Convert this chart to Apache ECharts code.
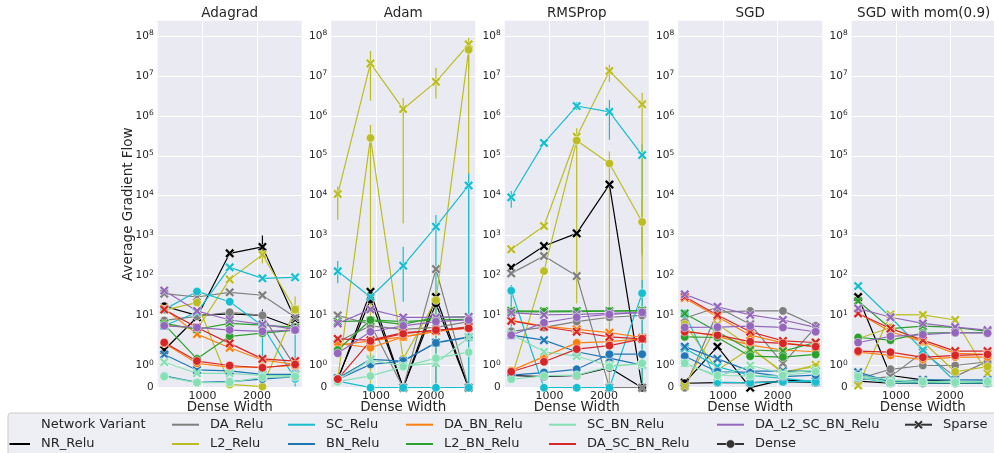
<!DOCTYPE html>
<html><head><meta charset="utf-8">
<script src="https://cdn.jsdelivr.net/npm/echarts@6/dist/echarts.min.js"></script>
<style>html,body{margin:0;padding:0;background:#fff}#c{width:994px;height:453px}</style>
</head><body><div id="c"></div>
<script>
const optimizers = ['Adagrad','Adam','RMSProp','SGD','SGD with mom(0.9)'];
const variants = ['NR_Relu','DA_Relu','L2_Relu','SC_Relu','BN_Relu','DA_BN_Relu','L2_BN_Relu','SC_BN_Relu','DA_SC_BN_Relu','DA_L2_SC_BN_Relu'];
const colors = ['#000000','#7f7f7f','#bcbd22','#17becf','#1f77b4','#ff7f0e','#2ca02c','#86e0b4','#d62728','#9467bd'];
const styles = ['Sparse','Dense'];
const denseWidths = [300,900,1500,2100,2700];
const xTicks = [1000,2000];
const yTickValues = [0,1,10,100,1e3,1e4,1e5,1e6,1e7,1e8];
const yTickExponents = [null,0,1,2,3,4,5,6,7,8];

// rows follow `variants` order
const adagradSparse = [
 [1.7,9,360,520,8],[35,29,38,32,9],[6,4.5,80,330,14],[5.5,12,160,85,90],[1.5,0.8,0.76,0.6,0.6],
 [15,3.4,1.8,1.25,1.05],[6.3,4.5,6.3,5.7,5],[1.15,0.65,0.65,0.55,0.55],[14,5,2,1.3,1.2],[42,13,7.7,6,4.5]];
const adagradDense = [
 [17,10,11,10,5],[7.5,9.5,12,10,0.95],[13.6,21,0.15,0.05,14],[14,40,22,5.5,0.4],[0.53,0.24,0.27,0.39,0.5],
 [2,1.1,0.93,0.93,1.0],[6,1.3,3,3.6,4.3],[0.5,0.23,0.24,0.47,0.5],[2.1,1.2,1.0,0.9,1.05],[5.5,5,4.3,4,4.3]];
const adamSparse = [
 [0.35,39,0,29,0],[10,6,0,145,0],[1.1e4,2.06e7,1.48e6,7.1e6,6.2e7],[128,29,176,1670,1.8e4],[0.43,1.28,1.2,2.1,2.9],
 [1.92,2.3,2.9,4,5.2],[7,7.4,6,9,9.2],[0.35,1.25,0.98,1.1,2.8],[2.6,2.4,3.7,4.2,5.2],[6.3,14.2,8.9,8.9,9.2]];
const adamDense = [
 [0.4,25,0,20,0],[2.2,5.5,4.5,5,7],[0.4,2.8e5,1.3,24,4.5e7],[0.3,0,0,0,0],[0.37,1.05,1.2,2.05,2.8],
 [2,1.8,2.9,4,4.8],[1.7,7.7,7,7.7,8],[0.27,0.53,0.95,1.33,1.6],[0.39,2.3,3.5,4.3,4.8],[1.55,3.9,5.5,7,7.7]];
const rmspropSparse = [
 [157,547,1140,1.9e4,0],[113,308,97,0,0],[453,1740,3e5,1.33e7,1.94e6],[9.1e3,2.1e5,1.76e6,1.26e6,1.04e5],[3.2,2.4,1.62,1.33,1.02],
 [7.5,5.4,4.5,3.7,2.8],[13.1,12.8,13,13,13.3],[3.4,1.62,1.42,1.0,1.05],[7.3,5.2,3.9,2.9,2.6],[11.7,10.3,10.6,11.2,11.7]];
const rmspropDense = [
 [0.55,0.5,0.55,0.9,0],[4,5,7,9,10],[0.4,129,2.4e5,6.4e4,2200],[41.6,0,0,0,36],[0.57,0.68,0.83,1.51,1.51],
 [0.77,1.4,2.06,2.2,2.6],[12.5,12.3,12.5,12.8,13],[0.38,0.53,0.57,0.95,1.1],[0.72,1.17,1.74,1.9,2.6],[3.2,6.6,9.0,10.6,11.9]];
const sgdSparse = [
 [0.23,1.85,0,0.35,0.27],[8.5,16,6,1.1,5],[0.07,6,1.85,0.65,1.03],[1.77,0.95,0.55,0.42,0.27],[1.85,1.3,0.75,0.75,0.75],
 [27,9.3,3.2,2.05,1.85],[11.2,3.9,1.7,1.65,2.1],[1.1,0.5,1.0,0.65,0.8],[29.4,10.3,3.9,2.3,2.1],[33.7,16.5,10.3,7.7,5]];
const sgdDense = [
 [0.2,0.23,0.23,0.27,0.24],[0,12,13,13,5.5],[6,0.8,1.77,0.72,0.95],[11,0.25,0.22,0.27,0.27],[1.42,0.72,0.7,0.5,0.57],
 [4.2,3.0,1.92,1.7,1.62],[2.9,2.8,1.42,1.38,1.5],[1.1,0.55,0.53,0.55,0.72],[3.9,3.2,2.2,2.0,1.85],[5,5.1,5.4,5,3.9]];
const sgdMomSparse = [
 [29,0.55,0.35,0.27,0.23],[0.35,0.5,1.6,0.5,1.2],[0.1,10.5,10.3,7.7,0.65],[54.5,9,1.7,0.27,0.27],[0.7,0.27,0.35,0.35,0.35],
 [11.5,3.9,2.2,1.55,1.5],[23,4.7,5.4,5,4],[0.55,0.35,0.27,0.27,0.27],[11.2,4.7,2.4,1.65,1.65],[15,9,6.3,5.1,4.3]];
const sgdMomDense = [
 [0.3,0.2,0.2,0.2,0.2],[0.4,0.83,1.0,1.0,1.17],[2.6,5,2.2,0.72,0.95],[0.45,0.22,0.22,0.22,0.22],[0.6,0.27,0.25,0.27,0.3],
 [1.6,1.46,1.27,1.38,1.38],[2.8,2.4,3.6,3.7,3.7],[0.5,0.23,0.27,0.23,0.27],[1.65,1.6,1.37,1.46,1.5],[2.1,3.0,3.3,3.7,3.6]];

// [panel, variant, style(0 Sparse / 1 Dense), point, low, high]
const errorBars = [
 [0,0,0,3,280,1000],[0,0,1,3,7,14],[0,2,0,3,200,450],[0,2,0,4,7.5,30],[0,3,1,3,0.3,6],[0,3,1,4,0.05,4],
 [1,2,0,0,2500,1.7e4],[1,2,0,1,2.4e6,4.2e7],[1,2,0,2,2000,2.8e6],[1,2,0,3,2.7e6,1.6e7],[1,2,0,4,1.5e7,9e7],
 [1,2,1,1,0,5.9e5],[1,2,1,3,0,30],[1,2,1,4,0,7e7],
 [1,3,0,0,64,230],[1,3,0,2,22,525],[1,3,0,3,0,3300],[1,3,0,4,0,3.6e4],
 [2,3,0,0,5000,1.3e4],[2,3,0,2,1.4e6,2.2e6],[2,3,0,3,2.5e5,2.5e6],[2,3,0,4,360,2e5],
 [2,2,0,2,20,4.9e5],[2,2,0,3,7e6,1.9e7],[2,2,0,4,0,3.8e6],[2,2,1,3,0,1.27e5],[2,2,1,4,300,8000],
 [2,3,1,0,4.3,58],[2,3,1,4,0,77]
];

const sparseSets = [adagradSparse, adamSparse, rmspropSparse, sgdSparse, sgdMomSparse];
const denseSets = [adagradDense, adamDense, rmspropDense, sgdDense, sgdMomDense];

const LT = 2, LS = 1/(1-1/10);
function symlog(v){ return v <= LT ? v/LT*LS : LS + Math.log10(v/LT); }
const yTickT = yTickValues.map(symlog);
const yMaxT = 9.193;

const FONT = '"DejaVu Sans", sans-serif';
const TXT = '#262626';
const gridLefts = [157.7, 331.2, 504.7, 678.2, 851.7];
const gridW = 144, gridTop = 20.7, gridH = 367;
const X_PATH = 'path://M2,0 L5,3 L8,0 L10,2 L7,5 L10,8 L8,10 L5,7 L2,10 L0,8 L3,5 L0,2 Z';

const grids = [], xAxes = [], yAxes = [], series = [], graphics = [];
optimizers.forEach((name, p) => {
  grids.push({left: gridLefts[p], top: gridTop, width: gridW, height: gridH, show: true, backgroundColor: '#eaeaf2', borderWidth: 0});
  xAxes.push({type: 'value', gridIndex: p, min: 180, max: 2820,
    name: 'Dense Width', nameLocation: 'middle', nameGap: 13, nameMoveOverlap: false,
    nameTextStyle: {fontSize: 13.5, color: TXT, fontFamily: FONT},
    axisLine: {show: false}, axisTick: {show: false, customValues: xTicks},
    axisLabel: {customValues: xTicks, color: TXT, fontSize: 11, margin: 3, fontFamily: FONT,
      formatter: function(val){ return String(Math.round(val)); }},
    splitLine: {show: true, lineStyle: {color: '#ffffff', width: 1}}});
  yAxes.push({type: 'value', gridIndex: p, min: 0, max: yMaxT,
    name: p === 0 ? 'Average Gradient Flow' : '', nameLocation: 'middle', nameGap: 22, nameMoveOverlap: false,
    nameTextStyle: {fontSize: 13.5, color: TXT, fontFamily: FONT},
    axisLine: {show: false}, axisTick: {show: false, customValues: yTickT},
    axisLabel: {customValues: yTickT, color: TXT, fontSize: 10.5, margin: 4, fontFamily: FONT,
      rich: {b: {fontSize: 10.5, color: TXT, fontFamily: FONT},
             s: {fontSize: 7.5, color: TXT, fontFamily: FONT, padding: [0, 0, 5, 0]}},
      formatter: function(val){
        for (let i = 0; i < yTickT.length; i++) {
          if (Math.abs(yTickT[i]-val) < 1e-6) {
            return yTickExponents[i] === null ? '{b|0}' : '{b|10}{s|' + yTickExponents[i] + '}';
          }
        }
        return '';
      }},
    splitLine: {show: true, lineStyle: {color: '#ffffff', width: 1}}});
  graphics.push({type: 'text', x: gridLefts[p] + gridW/2, y: 13.5,
    style: {text: name, fill: TXT, font: '13.5px ' + FONT, textAlign: 'center', textVerticalAlign: 'middle', align: 'center', verticalAlign: 'middle'}});

  const errs = errorBars.filter(e => e[0] === p).map(e => [denseWidths[e[3]], symlog(e[4]), symlog(e[5]), e[1]]);
  series.push({type: 'custom', xAxisIndex: p, yAxisIndex: p, data: errs, clip: true, silent: true,
    encode: {x: 0, y: [1, 2]},
    renderItem: function(params, api){
      const a = api.coord([api.value(0), api.value(1)]);
      const b = api.coord([api.value(0), api.value(2)]);
      return {type: 'line', shape: {x1: a[0], y1: a[1], x2: b[0], y2: b[1]},
        style: {stroke: colors[api.value(3)], lineWidth: 1.2}};
    }});

  variants.forEach((vname, v) => {
    [sparseSets[p][v], denseSets[p][v]].forEach((vals, s) => {
      series.push({type: 'line', name: vname + ' ' + styles[s], xAxisIndex: p, yAxisIndex: p,
        data: denseWidths.map((x, i) => [x, symlog(vals[i])]),
        symbol: s === 0 ? X_PATH : 'circle', symbolSize: s === 0 ? 9.5 : 8.5,
        showAllSymbol: true, clip: true, silent: true,
        lineStyle: {color: colors[v], width: 1.2},
        itemStyle: {color: colors[v], borderColor: '#ffffff', borderWidth: 0.5}});
    });
  });
});

// legend (drawn as graphics)
const legendTextX = [41, 210, 326, 444, 587, 755, 943];
const legendRowY = [424.7, 444];
graphics.push({type: 'rect', shape: {x: 8, y: 413, width: 995, height: 50, r: 3},
  style: {fill: '#eeeef5', stroke: '#cccccc', lineWidth: 1}, z: 10});
function legendText(col, row, text){
  graphics.push({type: 'text', x: legendTextX[col], y: legendRowY[row], z: 11,
    style: {text: text, fill: TXT, font: '13px ' + FONT, textAlign: 'left', textVerticalAlign: 'middle', align: 'left', verticalAlign: 'middle'}});
}
function legendLine(col, row, color){
  const x2 = legendTextX[col] - 11, x1 = col === 0 ? 9.5 : x2 - 27;
  graphics.push({type: 'line', z: 11, shape: {x1: x1, y1: legendRowY[row], x2: x2, y2: legendRowY[row]},
    style: {stroke: color, lineWidth: 2}});
  return (x1 + x2) / 2;
}
legendText(0, 0, 'Network Variant');
variants.forEach((vname, v) => {
  const k = v === 0 ? 1 : v + 1;
  const col = Math.floor(k / 2), row = k % 2;
  legendLine(col, row, colors[v]);
  legendText(col, row, vname);
});
// style entries
const styleSlots = [[6, 0], [5, 1]];
styles.forEach((sname, s) => {
  const col = styleSlots[s][0], row = styleSlots[s][1];
  const cx = legendLine(col, row, '#333333'), cy = legendRowY[row];
  if (s === 0) {
    const a = 4.5, t = 1.8;
    graphics.push({type: 'polygon', z: 12, shape: {points: [
      [cx - a + t, cy - a], [cx, cy - t], [cx + a - t, cy - a], [cx + a, cy - a + t], [cx + t, cy],
      [cx + a, cy + a - t], [cx + a - t, cy + a], [cx, cy + t], [cx - a + t, cy + a], [cx - a, cy + a - t],
      [cx - t, cy], [cx - a, cy - a + t]]}, style: {fill: '#333333', stroke: '#ffffff', lineWidth: 0.5}});
  } else {
    graphics.push({type: 'circle', z: 12, shape: {cx: cx, cy: cy, r: 4.2}, style: {fill: '#333333', stroke: '#ffffff', lineWidth: 0.5}});
  }
  legendText(col, row, sname);
});

const chart = echarts.init(document.getElementById('c'), null, {renderer: 'canvas'});
chart.setOption({
  animation: false,
  backgroundColor: '#ffffff',
  textStyle: {fontFamily: FONT},
  grid: grids, xAxis: xAxes, yAxis: yAxes, series: series, graphic: graphics
});
</script></body></html>
